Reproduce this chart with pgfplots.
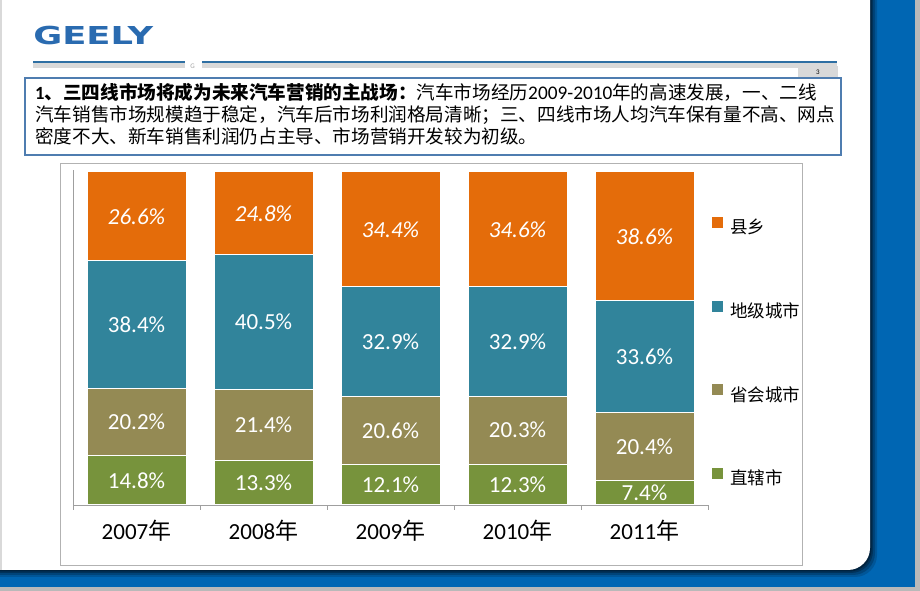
\documentclass[border=0pt]{standalone}
\usepackage{fontspec}
\setmainfont{Carlito}
\newfontfamily\cjk{Noto Sans CJK SC}
\newfontfamily\logofont{DejaVu Sans}
\usepackage{pgfplots}
\pgfplotsset{compat=1.18}
\usepackage{pgfplotstable}
\definecolor{cOr}{HTML}{E46C0A}
\definecolor{cTe}{HTML}{31849B}
\definecolor{cKh}{HTML}{948A54}
\definecolor{cGr}{HTML}{77933C}
\definecolor{slideblue}{HTML}{0066B3}
\definecolor{boxblue}{HTML}{4F7DB0}
\definecolor{logoblue}{HTML}{2A6BB0}
\definecolor{lineblue}{HTML}{2E6FA3}

\pgfplotstableread{
x zx sh dj xx
0 14.8 20.2 38.4 26.6
1 13.3 21.4 40.5 24.8
2 12.1 20.6 32.9 34.4
3 12.3 20.3 32.9 34.6
4 7.4 20.4 33.6 38.6
}\datatable

\begin{document}
\begin{tikzpicture}[x=1pt,y=1pt]
\useasboundingbox (0,0) rectangle (920,591);
% slide background
\fill[gray!55] (0,0) rectangle (920,591);
\fill[slideblue] (0,4) rectangle (915,591);
\foreach \o/\op in {7/0.15,5/0.2,3/0.25,1.5/0.3}{
  \fill[black, opacity=\op] (0,21-\o) -- (848+\o,21-\o) arc[start angle=-90,end angle=0,radius=22] -- (870+\o,591) -- (0,591) -- cycle;
}
\fill[white] (0,21) -- (848,21) arc[start angle=-90,end angle=0,radius=22] -- (870,591) -- (0,591) -- cycle;
\fill[gray!30] (0,21) rectangle (2,591);
% logo
\node[text=logoblue, font=\logofont\bfseries\fontsize{24.7}{24.7}\selectfont, xscale=1.43, inner sep=0pt, anchor=base west] at (33,546) {GEELY};
% header lines
\fill[gray!30] (33,523) rectangle (185,527.5);
\fill[gray!30] (202,523) rectangle (837,527.5);
\draw[lineblue, line width=1.5pt] (33,529) -- (185,529);
\draw[lineblue, line width=1.5pt] (202,529) -- (837,529);
\node[text=gray!70, font=\fontsize{7}{7}\selectfont, inner sep=0pt] at (192.5,524.5) {G};
\fill[gray!30] (798,513) rectangle (838,525);
\node[font=\fontsize{7}{7}\selectfont, inner sep=0pt] at (818,518.5) {3};
% text box
\draw[boxblue, line width=2pt, fill=white] (25,436) rectangle (841,513);
\node[anchor=base west, inner sep=0pt, font=\fontsize{18.6}{18.6}\selectfont] at (35,491)
  {{\bfseries 1{\cjk\bfseries 、三四线市场将成为未来汽车营销的主战场：}}{\cjk 汽车市场经历}\fontsize{19.3}{19.3}\selectfont 2009-2010{\cjk\fontsize{18.6}{18.6}\selectfont 年的高速发展，一、二线}};
\node[anchor=base west, inner sep=0pt, font=\cjk\fontsize{18.6}{18.6}\selectfont] at (35,469)
  {汽车销售市场规模趋于稳定，汽车后市场利润格局清晰；三、四线市场人均汽车保有量不高、网点};
\node[anchor=base west, inner sep=0pt, font=\cjk\fontsize{18.6}{18.6}\selectfont] at (35,447)
  {密度不大、新车销售利润仍占主导、市场营销开发较为初级。};
% chart frame
\draw[gray!60, line width=0.8pt] (60,26) rectangle (802,428);

\begin{axis}[
  at={(73pt,86pt)}, anchor=south west,
  width=635pt, height=335pt, scale only axis,
  xmin=-0.5, xmax=4.5, ymin=0, ymax=100.6,
  enlargelimits=false, clip=false,
  ybar stacked, bar width=99pt,
  axis x line*=bottom, axis y line*=left,
  axis line style={-, draw=gray!75, line width=0.8pt},
  ytick=\empty,
  xtick={0,1,2,3,4},
  xticklabels={2007{\cjk 年},2008{\cjk 年},2009{\cjk 年},2010{\cjk 年},2011{\cjk 年}},
  minor xtick={-0.5,0.5,1.5,2.5,3.5,4.5},
  major tick length=0pt, minor tick length=5pt, tick align=outside,
  minor tick style={draw=gray!75, line width=0.8pt},
  xticklabel style={font=\fontsize{23}{23}\selectfont, text height=20pt, text depth=5pt, inner sep=0pt, anchor=north, yshift=-14pt},
  /pgf/number format/assume math mode=true,
  legend style={draw=none, fill=none, inner sep=0pt, outer sep=0pt,
    at={(axis description cs:1.0063,0.8594)}, anchor=north west,
    row sep=63.9pt, column sep=7pt,
    nodes={inner sep=0pt, text height=12.5pt, text depth=3pt},
    font=\cjk\fontsize{17.5}{17.5}\selectfont},
  legend cell align=left,
  reverse legend,
  legend image code/.code={\fill[#1, draw=none] (0pt,1pt) rectangle (11pt,12pt);},
  nodes near coords={\pgfmathprintnumber[fixed,fixed zerofill,precision=1]{\pgfplotspointmeta}\%},
  every node near coord/.append style={text=white, font=\fontsize{23}{23}\selectfont, anchor=center},
]
\addplot[fill=cGr, draw=white, line width=1pt] table[x=x,y=zx]{\datatable};
\addlegendentry{直辖市}
\addplot[fill=cKh, draw=white, line width=1pt] table[x=x,y=sh]{\datatable};
\addlegendentry{省会城市}
\addplot[fill=cTe, draw=white, line width=1pt] table[x=x,y=dj]{\datatable};
\addlegendentry{地级城市}
\addplot[fill=cOr, draw=white, line width=1pt,
  every node near coord/.append style={font=\itshape\fontsize{23}{23}\selectfont}] table[x=x,y=xx]{\datatable};
\addlegendentry{县乡}
\end{axis}
\end{tikzpicture}
\end{document}
